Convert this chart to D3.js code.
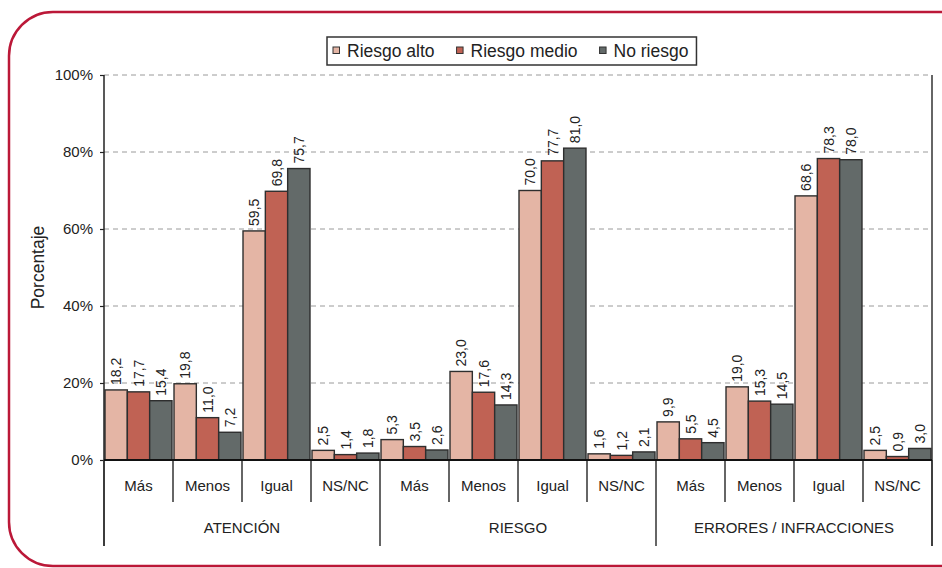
<!DOCTYPE html>
<html>
<head>
<meta charset="utf-8">
<script src="https://cdn.jsdelivr.net/npm/d3@7/dist/d3.min.js"></script>
<style>
  html, body { margin: 0; padding: 0; background: #fff; }
  svg { display: block; font-family: "Liberation Sans", Arial, Helvetica, sans-serif; }
</style>
</head>
<body>
<svg id="chart" width="942" height="568"></svg>
<script>
// ---- data ----
const groups = ["ATENCIÓN", "RIESGO", "ERRORES / INFRACCIONES"];
const categories = ["Más", "Menos", "Igual", "NS/NC"];
const seriesNames = ["Riesgo alto", "Riesgo medio", "No riesgo"];
const riesgoAlto  = [18.2, 19.8, 59.5, 2.5,  5.3, 23.0, 70.0, 1.6,  9.9, 19.0, 68.6, 2.5];
const riesgoMedio = [17.7, 11.0, 69.8, 1.4,  3.5, 17.6, 77.7, 1.2,  5.5, 15.3, 78.3, 0.9];
const noRiesgo    = [15.4,  7.2, 75.7, 1.8,  2.6, 14.3, 81.0, 2.1,  4.5, 14.5, 78.0, 3.0];
const yTicks = [0, 20, 40, 60, 80, 100];
const colors = ["#e4b5a5", "#c06254", "#636a69"];

const seriesValues = [riesgoAlto, riesgoMedio, noRiesgo];
const slots = [];
groups.forEach((g, gi) => categories.forEach((c, ci) => slots.push({ g, c, key: gi + "|" + c, idx: gi * categories.length + ci })));

const svg = d3.select("#chart");

// frame
svg.append("rect")
  .attr("x", 9).attr("y", 12).attr("width", 980).attr("height", 554)
  .attr("rx", 44).attr("ry", 44)
  .attr("fill", "#fff").attr("stroke", "#bb1838").attr("stroke-width", 2.5);

const pLeft = 104, pRight = 932, pTop = 75, pBottom = 460;
const x0 = d3.scaleBand().domain(slots.map(d => d.key)).range([pLeft, pRight]).padding(0);
const x1 = d3.scaleBand().domain(seriesNames).range([0, x0.bandwidth()]).paddingInner(0).paddingOuter(0.045);
const y = d3.scaleLinear().domain([0, 100]).range([pBottom, pTop]);

// gridlines
svg.append("g").selectAll("line").data(yTicks.filter(t => t > 0)).join("line")
  .attr("x1", pLeft).attr("x2", pRight)
  .attr("y1", d => y(d)).attr("y2", d => y(d))
  .attr("stroke", "#9a9a9a").attr("stroke-width", 1).attr("stroke-dasharray", "5,4");

// y axis
const yAxis = d3.axisLeft(y).tickValues(yTicks).tickFormat(d => d + "%").tickSize(4).tickPadding(7);
const gy = svg.append("g").attr("transform", `translate(${pLeft},0)`).call(yAxis);
gy.select(".domain").remove();
gy.selectAll(".tick line").attr("stroke", "#222").attr("stroke-width", 1.2);
gy.selectAll(".tick text").attr("font-size", 15).attr("fill", "#222")
  .attr("font-family", "Liberation Sans, Arial, sans-serif");

// y label
svg.append("text")
  .attr("transform", `translate(44,${(pTop + pBottom) / 2}) rotate(-90)`)
  .attr("text-anchor", "middle").attr("font-size", 17.5).attr("fill", "#222")
  .text("Porcentaje");

// bars
const barData = [];
slots.forEach(s => seriesNames.forEach((n, si) => barData.push({ s, n, si, v: seriesValues[si][s.idx] })));

const gb = svg.append("g");
gb.selectAll("rect").data(barData).join("rect")
  .attr("x", d => x0(d.s.key) + x1(d.n))
  .attr("width", x1.bandwidth())
  .attr("y", d => y(d.v))
  .attr("height", d => y(0) - y(d.v))
  .attr("fill", d => colors[d.si])
  .attr("stroke", "#2e2e2e").attr("stroke-width", 1.4);

// value labels
gb.selectAll("text").data(barData).join("text")
  .attr("transform", d => `translate(${x0(d.s.key) + x1(d.n) + x1.bandwidth() / 2 + 5},${y(d.v) - 5}) rotate(-90)`)
  .attr("text-anchor", "start").attr("font-size", 14).attr("fill", "#222")
  .text(d => d.v.toFixed(1).replace(".", ","));

// axes lines
svg.append("line").attr("x1", pLeft).attr("x2", pLeft).attr("y1", pTop).attr("y2", 546)
  .attr("stroke", "#222").attr("stroke-width", 1.5);
svg.append("line").attr("x1", pRight).attr("x2", pRight).attr("y1", pTop).attr("y2", 546)
  .attr("stroke", "#333").attr("stroke-width", 1.5);

// category dividers
const boundaries = slots.map(s => x0(s.key)).concat([pRight]);
svg.append("g").selectAll("line").data(boundaries.filter((b, i) => i % categories.length !== 0)).join("line")
  .attr("x1", d => d).attr("x2", d => d).attr("y1", pBottom).attr("y2", 502)
  .attr("stroke", "#333").attr("stroke-width", 1.5);
svg.append("g").selectAll("line").data(boundaries.filter((b, i) => i % categories.length === 0)).join("line")
  .attr("x1", d => d).attr("x2", d => d).attr("y1", pBottom).attr("y2", 546)
  .attr("stroke", "#333").attr("stroke-width", 1.5);

// x baseline
svg.append("line").attr("x1", pLeft).attr("x2", pRight).attr("y1", pBottom).attr("y2", pBottom)
  .attr("stroke", "#111").attr("stroke-width", 2);

// category labels
svg.append("g").selectAll("text").data(slots).join("text")
  .attr("x", d => x0(d.key) + x0.bandwidth() / 2).attr("y", 491)
  .attr("text-anchor", "middle").attr("font-size", 15).attr("fill", "#222")
  .text(d => d.c);

// group labels
const gw = x0.bandwidth() * categories.length;
svg.append("g").selectAll("text").data(groups).join("text")
  .attr("x", (d, i) => pLeft + gw * i + gw / 2).attr("y", 533)
  .attr("text-anchor", "middle").attr("font-size", 15).attr("fill", "#222")
  .text(d => d);

// legend
const lg = svg.append("g");
const box = lg.append("rect").attr("x", 327).attr("y", 37).attr("height", 28)
  .attr("fill", "#fff").attr("stroke", "#333").attr("stroke-width", 1.5);
let lx = 333;
seriesNames.forEach((n, i) => {
  lg.append("rect").attr("x", lx).attr("y", 47).attr("width", 6.5).attr("height", 6.5)
    .attr("fill", colors[i]).attr("stroke", "#333").attr("stroke-width", 1);
  const t = lg.append("text").attr("x", lx + 14).attr("y", 57).attr("font-size", 17.5).attr("fill", "#222").text(n);
  const w = t.node().getComputedTextLength();
  lx = lx + 14 + w + (i < seriesNames.length - 1 ? 22 : 0);
});
box.attr("width", lx + 8 - 327);
</script>
</body>
</html>
